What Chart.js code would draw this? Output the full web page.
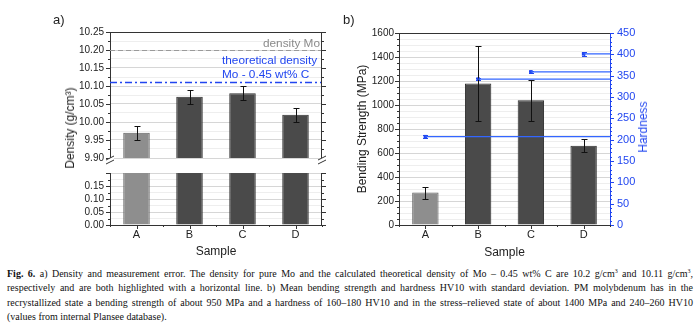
<!DOCTYPE html>
<html>
<head>
<meta charset="utf-8">
<script src="https://cdn.jsdelivr.net/npm/chart.js@4.4.1/dist/chart.umd.min.js"></script>
<style>
  body { margin: 0; background: #fff; }
  #wrap { position: relative; width: 700px; height: 327px; overflow: hidden; font-family: 'Liberation Sans', Arial, sans-serif; color: #222; }
  #wrap canvas { position: absolute; }
  .panel { position: absolute; font-size: 13px; line-height: 14px; }
  .vtitle { position: absolute; font-size: 12px; line-height: 14px; white-space: nowrap; transform: translate(-50%, -50%) rotate(-90deg); }
  #caption { position: absolute; left: 7px; top: 267px; width: 686px; font-family: 'Liberation Serif', serif; font-size: 10px; line-height: 14.4px; color: #111; }
  #caption .ln { text-align: justify; text-align-last: justify; }
  #caption sup { font-size: 6px; line-height: 0; vertical-align: 4px; }
</style>
</head>
<body>
<div id="wrap">
  <canvas id="densLow" width="345" height="101" style="left:0;top:161px"></canvas>
  <canvas id="densHigh" width="345" height="170" style="left:0;top:0"></canvas>
  <canvas id="bend" width="355" height="262" style="left:345px;top:0"></canvas>
  <div class="panel" style="left:53px;top:13px">a)</div>
  <div class="panel" style="left:343px;top:13px">b)</div>
  <div class="vtitle" style="left:70px;top:128px">Density (g/cm³)</div>
  <div class="vtitle" style="left:643px;top:127px;color:#2146f0">Hardness</div>
  <div id="caption">
    <div class="ln"><b>Fig. 6.</b> a) Density and measurement error. The density for pure Mo and the calculated theoretical density of Mo – 0.45 wt% C are 10.2 g/cm<sup>3</sup> and 10.11 g/cm<sup>3</sup>,</div>
    <div class="ln">respectively and are both highlighted with a horizontal line. b) Mean bending strength and hardness HV10 with standard deviation. PM molybdenum has in the</div>
    <div class="ln">recrystallized state a bending strength of about 950 MPa and a hardness of 160–180 HV10 and in the stress–relieved state of about 1400 MPa and 240–260 HV10</div>
    <div>(values from internal Plansee database).</div>
  </div>
</div>

<script>
// --- data ---
const samples = ['A', 'B', 'C', 'D'];

// a) density (g/cm³) with measurement error
const density = [9.97, 10.07, 10.08, 10.02];
const densityErr = [0.02, 0.02, 0.02, 0.02];
const densityMo = 10.20;    // pure Mo
const densityTheo = 10.11;  // Mo - 0.45 wt% C

// b) bending strength (MPa) and hardness (HV10), mean and std deviation
const bending = [270, 1180, 1040, 660];
const bendingErr = [50, 310, 170, 55];
const hardness = [207, 342, 359, 401];
const hardnessErr = [3, 3, 2, 4];

// --- styles ---
const BLUE = '#2146f0';
const BLUE_LINE = '#3366ff';
const AXIS = '#333333';
const GRID_MAJOR = '#d6d6d6';
const GRID_MINOR = '#eeeeee';
const barFill = c => c.dataIndex === 0 ? '#8e8e8e' : '#4a4a4a';
const barEdge = c => c.dataIndex === 0 ? '#606060' : '#2e2e2e';

Chart.defaults.font.family = "'Liberation Sans', Arial, sans-serif";
Chart.defaults.color = '#222';

const onStep = (v, step) => Math.abs(v / step - Math.round(v / step)) < 1e-6;

// vertical error bars, read from dataset.errors
const errorBars = {
  id: 'errorBars',
  afterDatasetsDraw(chart) {
    const { ctx, chartArea: a } = chart;
    chart.data.datasets.forEach((ds, di) => {
      if (!ds.errors) return;
      const meta = chart.getDatasetMeta(di);
      const yScale = chart.scales[meta.yAxisID];
      const cap = ds.errorCap || 3;
      ctx.save();
      ctx.beginPath();
      ctx.rect(a.left, a.top, a.right - a.left, a.bottom - a.top);
      ctx.clip();
      ctx.strokeStyle = ds.errorColor || '#111';
      ctx.lineWidth = 1;
      ctx.beginPath();
      meta.data.forEach((el, i) => {
        const x = Math.round(el.x) + 0.5;
        const top = Math.round(yScale.getPixelForValue(ds.data[i] + ds.errors[i])) + 0.5;
        const bot = Math.round(yScale.getPixelForValue(ds.data[i] - ds.errors[i])) + 0.5;
        ctx.moveTo(x, top); ctx.lineTo(x, bot);
        ctx.moveTo(x - cap, top); ctx.lineTo(x + cap, top);
        ctx.moveTo(x - cap, bot); ctx.lineTo(x + cap, bot);
      });
      ctx.stroke();
      ctx.restore();
    });
  }
};

// top/right frame lines plus major and minor tick marks pointing outwards
const frame = {
  id: 'frame',
  afterDraw(chart, args, opts) {
    const { ctx, chartArea: a } = chart;
    const seg = (x1, y1, x2, y2) => { ctx.moveTo(x1, y1); ctx.lineTo(x2, y2); };
    ctx.save();
    ctx.lineWidth = 1;
    ctx.strokeStyle = AXIS;
    ctx.beginPath();
    if (opts.top) seg(a.left, a.top + 0.5, a.right, a.top + 0.5);
    if (opts.right) seg(a.right - 0.5, a.top, a.right - 0.5, a.bottom);
    ctx.stroke();
    (opts.ticks || []).forEach(t => {
      const s = chart.scales[t.scale];
      const from = t.from ?? s.min, to = t.to ?? s.max;
      const n = Math.round((to - from) / t.minor);
      ctx.strokeStyle = t.color || AXIS;
      ctx.beginPath();
      for (let k = 0; k <= n; k++) {
        const v = from + k * t.minor;
        const len = onStep(v, t.major) ? 4 : 2;
        const p = Math.round(s.getPixelForValue(v)) + 0.5;
        if (t.side === 'left') seg(a.left - len, p, a.left, p);
        else if (t.side === 'right') seg(a.right, p, a.right + len, p);
        else seg(p, a.bottom, p, a.bottom + len);
      }
      ctx.stroke();
    });
    ctx.restore();
  }
};

// reference densities as horizontal lines with their labels
const densityLines = {
  id: 'densityLines',
  beforeDatasetsDraw(chart) {
    const { ctx, chartArea: a, scales: { y } } = chart;
    const yMo = Math.round(y.getPixelForValue(densityMo)) + 0.5;
    const yTh = Math.round(y.getPixelForValue(densityTheo)) + 0.5;
    ctx.save();
    ctx.lineWidth = 1.2;
    ctx.strokeStyle = '#9a9a9a';
    ctx.setLineDash([5, 3]);
    ctx.beginPath(); ctx.moveTo(a.left, yMo); ctx.lineTo(a.right, yMo); ctx.stroke();
    ctx.lineWidth = 1.5;
    ctx.strokeStyle = BLUE;
    ctx.setLineDash([7, 3, 2, 3]);
    ctx.beginPath(); ctx.moveTo(a.left, yTh); ctx.lineTo(a.right, yTh); ctx.stroke();

    ctx.font = "11.8px 'Liberation Sans', Arial, sans-serif";
    ctx.textBaseline = 'middle';
    ctx.fillStyle = '#8a8a8a';
    ctx.textAlign = 'right';
    ctx.fillText('density Mo', a.right - 2, yMo - 7);
    ctx.fillStyle = BLUE;
    ctx.textAlign = 'left';
    ctx.fillText('theoretical density', a.right - 100, yTh - 21.5);
    ctx.fillText('Mo - 0.45 wt% C', a.right - 100, yTh - 7.5);
    ctx.restore();
  }
};

// "//" marks where the density axis is broken
const axisBreak = {
  id: 'axisBreak',
  afterDraw(chart) {
    const { ctx, chartArea: a } = chart;
    const yMid = a.bottom + 2;
    ctx.save();
    [a.left, a.right].forEach(x => {
      ctx.fillStyle = '#fff';
      ctx.beginPath();
      ctx.moveTo(x - 4, yMid); ctx.lineTo(x + 4, yMid - 4);
      ctx.lineTo(x + 4, yMid); ctx.lineTo(x - 4, yMid + 4);
      ctx.closePath();
      ctx.fill();
      ctx.strokeStyle = AXIS;
      ctx.lineWidth = 1;
      ctx.beginPath();
      ctx.moveTo(x - 4, yMid); ctx.lineTo(x + 4, yMid - 4);
      ctx.moveTo(x - 4, yMid + 4); ctx.lineTo(x + 4, yMid);
      ctx.stroke();
    });
    ctx.restore();
  }
};

// thin line from each hardness point to the hardness axis
const dropLines = {
  id: 'dropLines',
  afterDatasetsDraw(chart) {
    const { ctx, chartArea: a } = chart;
    chart.data.datasets.forEach((ds, di) => {
      if (!ds.dropLine) return;
      ctx.save();
      ctx.strokeStyle = BLUE_LINE;
      ctx.lineWidth = 1.3;
      ctx.beginPath();
      chart.getDatasetMeta(di).data.forEach(pt => {
        ctx.moveTo(pt.x, pt.y); ctx.lineTo(a.right, pt.y);
      });
      ctx.stroke();
      ctx.restore();
    });
  }
};

const common = {
  responsive: false,
  animation: false,
  devicePixelRatio: 1,
  plugins: { legend: { display: false }, tooltip: { enabled: false } }
};

const barSet = data => ({
  data,
  backgroundColor: barFill,
  borderColor: barEdge,
  borderWidth: 1,
  barPercentage: 0.5,
  categoryPercentage: 1
});

const sampleAxis = titleBottom => ({
  offset: true,
  afterFit: s => { s.height = 37; },
  grid: { display: false, drawTicks: false },
  border: { color: AXIS },
  ticks: { padding: 3, font: { size: 11 }, color: '#222' },
  title: { display: true, text: 'Sample', font: { size: 12 }, color: '#222', padding: { top: 0, bottom: titleBottom } }
});

const densityAxis = (min, max, labelTop) => ({
  min, max,
  afterFit: s => { s.width = 110; },
  ticks: {
    stepSize: 0.025, autoSkip: false, padding: 6, font: { size: 10 },
    callback: v => onStep(v, 0.05) && v <= labelTop + 1e-9 ? v.toFixed(2) : ''
  },
  grid: { drawTicks: false, color: c => onStep(c.tick.value, 0.05) ? GRID_MAJOR : GRID_MINOR },
  border: { color: AXIS }
});

// a) lower segment, 0 - 0.2
new Chart(document.getElementById('densLow'), {
  type: 'bar',
  data: { labels: samples, datasets: [{ ...barSet(density), clip: 0 }] },
  options: {
    ...common,
    layout: { padding: { left: 0, right: 23, top: 2, bottom: 0 } },
    scales: { x: sampleAxis(3), y: densityAxis(0, 0.2, 0.15) },
    plugins: {
      ...common.plugins,
      frame: {
        right: true,
        ticks: [
          { scale: 'y', side: 'left', minor: 0.025, major: 0.05 },
          { scale: 'y', side: 'right', minor: 0.025, major: 0.05 },
          { scale: 'x', side: 'bottom', minor: 0.5, major: 1, from: -0.5, to: 3.5 }
        ]
      }
    }
  },
  plugins: [frame]
});

// a) upper segment, 9.90 - 10.25
new Chart(document.getElementById('densHigh'), {
  type: 'bar',
  data: { labels: samples, datasets: [{ ...barSet(density), errors: densityErr }] },
  options: {
    ...common,
    layout: { padding: { left: 0, right: 23, top: 32, bottom: 11 } },
    scales: { x: { display: false, offset: true }, y: densityAxis(9.9, 10.25, 10.25) },
    plugins: {
      ...common.plugins,
      frame: {
        top: true, right: true,
        ticks: [
          { scale: 'y', side: 'left', minor: 0.025, major: 0.05 },
          { scale: 'y', side: 'right', minor: 0.025, major: 0.05 }
        ]
      }
    }
  },
  plugins: [densityLines, errorBars, frame, axisBreak]
});

// b) bending strength bars + hardness points on a second axis
new Chart(document.getElementById('bend'), {
  type: 'bar',
  data: {
    labels: samples,
    datasets: [
      {
        type: 'line', data: hardness, errors: hardnessErr, errorColor: BLUE, errorCap: 2.5,
        dropLine: true, yAxisID: 'y1', showLine: false, order: 0,
        pointStyle: 'rect', pointRadius: 2.5, backgroundColor: BLUE, borderColor: BLUE, borderWidth: 0
      },
      { ...barSet(bending), errors: bendingErr, yAxisID: 'y', order: 1 }
    ]
  },
  options: {
    ...common,
    layout: { padding: { left: 10, right: 50, top: 33, bottom: 0 } },
    scales: {
      x: sampleAxis(2),
      y: {
        position: 'left', min: 0, max: 1600,
        afterFit: s => { s.width = 44; },
        ticks: { stepSize: 50, autoSkip: false, padding: 5, font: { size: 10 }, callback: v => onStep(v, 200) ? v : '' },
        grid: { drawTicks: false, color: c => onStep(c.tick.value, 200) ? GRID_MAJOR : GRID_MINOR },
        border: { color: AXIS },
        title: { display: true, text: 'Bending Strength (MPa)', font: { size: 12 }, color: '#222', padding: 0 }
      },
      y1: {
        position: 'right', min: 0, max: 450,
        afterFit: s => { s.width = 40; },
        ticks: { stepSize: 50, padding: 7, color: BLUE, font: { size: 11 } },
        grid: { display: false, drawTicks: false },
        border: { color: BLUE }
      }
    },
    plugins: {
      ...common.plugins,
      frame: {
        top: true,
        ticks: [
          { scale: 'y', side: 'left', minor: 50, major: 200 },
          { scale: 'y1', side: 'right', minor: 10, major: 50, color: BLUE },
          { scale: 'x', side: 'bottom', minor: 0.5, major: 1, from: -0.5, to: 3.5 }
        ]
      }
    }
  },
  plugins: [errorBars, dropLines, frame]
});
</script>
</body>
</html>
